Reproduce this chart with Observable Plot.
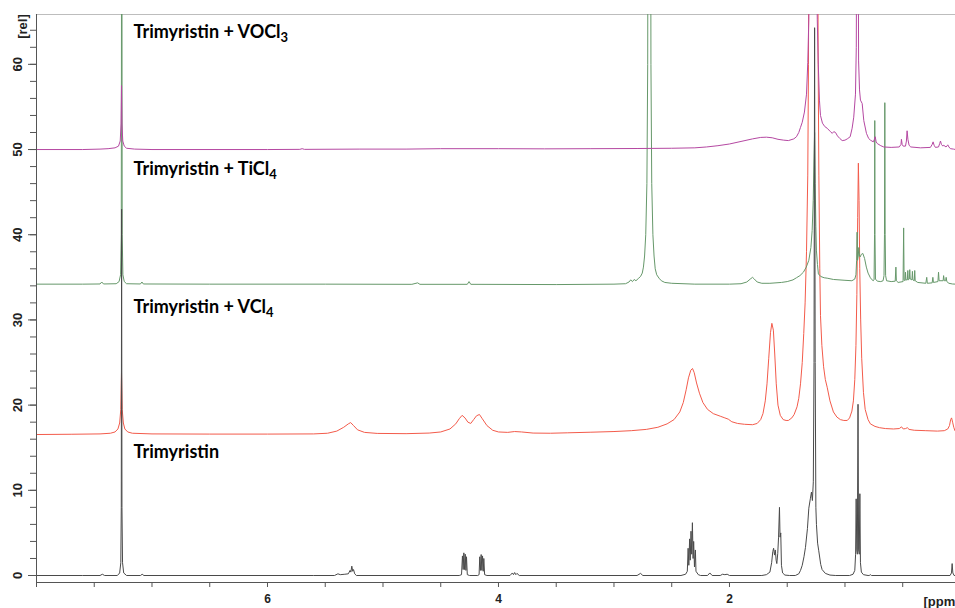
<!DOCTYPE html>
<html>
<head>
<meta charset="utf-8">
<script src="https://cdn.jsdelivr.net/npm/d3@7"></script>
<script src="https://cdn.jsdelivr.net/npm/@observablehq/plot@0.6"></script>
<style>
  html, body { margin: 0; padding: 0; background: #fff; }
  #chart { width: 955px; height: 608px; overflow: hidden; }
</style>
</head>
<body>
<div id="chart"></div>
<script>
// ---- Data: [ppm, intensity (rel)] ----
const trimyristin = [
  [8.0,0],[7.6,0],[7.45,0],[7.43,0.15],[7.41,0],[7.30,0],[7.28,0.3],[7.27,1.5],[7.266,8],[7.263,43],[7.26,8],[7.255,1.5],[7.245,0.3],[7.22,0],[7.10,0],[7.085,0.15],[7.07,0],
  [5.6,0],[5.42,0],[5.39,0.2],[5.37,0.1],[5.33,0.15],[5.30,0.2],[5.285,0.6],[5.278,0.4],[5.27,1.1],[5.262,0.5],[5.255,0.7],[5.245,0.2],[5.23,0],
  [4.34,0],[4.32,0.1],[4.312,2.3],[4.306,0.7],[4.30,2.66],[4.294,0.7],[4.288,2.5],[4.282,0.6],[4.277,2.2],[4.27,0.1],[4.25,0],
  [4.18,0],[4.168,0.1],[4.162,2.2],[4.156,0.6],[4.15,2.46],[4.144,0.6],[4.138,2.3],[4.132,0.5],[4.127,2.0],[4.12,0.1],[4.10,0],
  [3.90,0],[3.88,0.3],[3.87,0.1],[3.86,0.35],[3.85,0.1],[3.84,0.25],[3.82,0],
  [2.80,0],[2.77,0.25],[2.75,0],
  [2.42,0],[2.38,0.15],[2.365,0.5],[2.358,3.2],[2.352,1.2],[2.345,4.3],[2.34,1.8],[2.333,5.2],[2.327,2.5],[2.321,6.2],[2.315,2],[2.31,4.0],[2.303,1.0],[2.295,3.0],[2.29,0.5],[2.27,0.1],[2.25,0],
  [2.19,0],[2.17,0.3],[2.15,0],[2.08,0],[2.06,0.15],[2.04,0.1],[2.02,0.15],[2.0,0],
  [1.72,0],[1.68,0.1],[1.65,0.4],[1.635,1.5],[1.625,2.8],[1.618,3.2],[1.61,2.4],[1.603,3.0],[1.596,1.8],[1.59,1.4],[1.582,2.6],[1.575,4.5],[1.567,8.0],[1.562,4.5],[1.556,5.0],[1.55,1.2],[1.54,0.3],[1.52,0.05],[1.48,0],
  [1.43,0],[1.40,0.2],[1.385,0.6],[1.37,1.2],[1.355,2.2],[1.342,3.3],[1.325,5.5],[1.313,7.9],[1.30,9.0],[1.29,9.8],[1.282,8.8],[1.274,11],[1.268,25],[1.263,64.3],[1.258,25],[1.252,8],[1.247,6],[1.237,3.8],[1.227,2.9],[1.21,1.3],[1.198,0.7],[1.17,0.25],[1.13,0.05],[1.08,0],
  [0.96,0],[0.93,0.15],[0.915,0.6],[0.908,2.5],[0.903,9.0],[0.898,3.0],[0.893,2.5],[0.887,20.1],[0.882,3.0],[0.876,2.5],[0.871,9.6],[0.866,1.5],[0.858,0.4],[0.84,0.1],[0.80,0],
  [0.79,0],[0.78,0.1],[0.77,0],
  [0.09,0],[0.078,0.3],[0.072,1.4],[0.066,0.3],[0.055,0],[0.043,0]
];

const withVCl4 = [
  [8.0,16.55],[7.7,16.58],[7.45,16.62],[7.36,16.7],[7.32,16.85],[7.295,17.2],[7.28,17.9],[7.27,19.5],[7.264,23.8],[7.258,19.5],[7.248,17.9],[7.235,17.2],[7.21,16.85],[7.17,16.7],[7.0,16.62],[6.5,16.6],[6.0,16.6],[5.6,16.62],[5.48,16.7],[5.40,16.95],[5.34,17.4],[5.30,17.8],[5.28,17.95],[5.255,17.6],[5.22,17.1],[5.16,16.8],[5.05,16.68],[4.8,16.65],[4.6,16.72],[4.50,16.85],[4.42,17.2],[4.37,17.8],[4.34,18.4],[4.315,18.8],[4.29,18.5],[4.265,18.0],[4.24,17.85],[4.215,18.3],[4.19,18.75],[4.165,18.9],[4.14,18.4],[4.10,17.6],[4.05,17.05],[4.0,16.85],[3.92,16.8],[3.86,16.9],[3.80,16.85],[3.70,16.72],[3.55,16.7],[3.4,16.75],[3.2,16.82],[3.0,16.9],[2.85,17.0],[2.72,17.15],[2.62,17.4],[2.54,17.8],[2.48,18.3],[2.43,19.2],[2.40,20.3],[2.375,21.8],[2.355,23.2],[2.335,24.1],[2.32,24.3],[2.305,23.8],[2.285,22.6],[2.26,21.4],[2.23,20.3],[2.19,19.5],[2.14,19.0],[2.08,18.7],[2.04,18.5],[2.01,18.35],[1.98,18.05],[1.93,17.85],[1.87,17.75],[1.80,17.7],[1.76,17.85],[1.73,18.3],[1.71,19.0],[1.69,20.5],[1.675,22.5],[1.66,25.5],[1.645,28.5],[1.633,29.6],[1.62,28.8],[1.608,26],[1.595,22.5],[1.58,20],[1.56,18.8],[1.535,18.3],[1.51,18.2],[1.49,18.2],[1.46,18.5],[1.44,18.9],[1.415,19.8],[1.40,20.8],[1.385,22.5],[1.37,25],[1.357,28.4],[1.345,32],[1.333,38],[1.322,47],[1.316,60],[1.312,80],[1.26,110],[1.236,80],[1.232,60],[1.226,47],[1.218,36],[1.212,30.5],[1.20,27],[1.185,24.5],[1.17,23],[1.154,22.1],[1.13,20.5],[1.10,19.2],[1.07,18.6],[1.04,18.3],[1.01,18.2],[0.98,18.2],[0.96,18.5],[0.94,19.3],[0.927,20.5],[0.915,23],[0.905,27],[0.897,33],[0.89,42],[0.884,48.4],[0.878,44],[0.872,36],[0.864,30],[0.855,25.5],[0.84,21.5],[0.825,19.5],[0.80,18.3],[0.78,17.8],[0.74,17.5],[0.70,17.35],[0.65,17.25],[0.58,17.2],[0.53,17.25],[0.51,17.45],[0.495,17.2],[0.475,17.25],[0.46,17.35],[0.445,17.15],[0.40,17.05],[0.30,17.0],[0.20,16.95],[0.14,17.0],[0.11,17.2],[0.095,17.6],[0.085,18.3],[0.077,18.5],[0.068,18.0],[0.058,17.4],[0.048,17.0],[0.043,16.9]
];

const withTiCl4 = [
  [8.0,34.2],[7.6,34.2],[7.45,34.22],[7.435,34.45],[7.42,34.22],[7.31,34.25],[7.285,34.5],[7.272,35.3],[7.266,40],[7.262,100],[7.258,40],[7.252,35.3],[7.24,34.5],[7.22,34.25],[7.10,34.22],[7.087,34.45],[7.075,34.22],[6.5,34.2],[5.5,34.2],[4.75,34.18],[4.70,34.35],[4.68,34.18],[4.27,34.18],[4.255,34.5],[4.24,34.18],[3.5,34.15],[3.0,34.2],[2.90,34.25],[2.87,34.45],[2.855,34.7],[2.84,34.5],[2.825,34.75],[2.81,34.6],[2.79,34.85],[2.77,35.1],[2.755,35.5],[2.745,36.2],[2.735,37.5],[2.725,40],[2.715,46],[2.708,60],[2.704,100],[2.684,100],[2.68,60],[2.673,46],[2.663,40],[2.653,37.5],[2.643,36],[2.63,35.3],[2.61,34.9],[2.59,34.6],[2.56,34.4],[2.5,34.3],[2.3,34.2],[2.0,34.2],[1.90,34.25],[1.85,34.45],[1.815,34.85],[1.80,35.0],[1.785,34.8],[1.76,34.45],[1.72,34.3],[1.65,34.3],[1.55,34.4],[1.50,34.5],[1.45,34.7],[1.42,34.95],[1.39,35.2],[1.36,35.6],[1.335,36.2],[1.313,37.0],[1.295,38.5],[1.284,40.5],[1.275,44],[1.268,49],[1.263,52],[1.258,46],[1.252,41],[1.247,38.1],[1.238,36.5],[1.23,35.4],[1.21,35.1],[1.18,34.95],[1.154,34.9],[1.10,34.75],[1.0,34.65],[0.94,34.6],[0.915,34.8],[0.905,35.3],[0.899,37],[0.895,40.3],[0.891,37],[0.885,37.5],[0.88,38.5],[0.874,37.5],[0.868,37.4],[0.858,37.7],[0.845,37.8],[0.83,37.2],[0.815,36.2],[0.80,35.5],[0.78,34.95],[0.765,34.7],[0.756,34.6],[0.748,34.7],[0.744,40],[0.742,53.4],[0.74,40],[0.736,34.8],[0.72,34.55],[0.69,34.5],[0.67,34.6],[0.662,35.2],[0.658,40],[0.655,55.5],[0.652,40],[0.648,35.2],[0.64,34.6],[0.60,34.5],[0.565,34.55],[0.559,36.2],[0.555,34.6],[0.54,34.4],[0.497,34.5],[0.492,40.8],[0.488,34.7],[0.48,34.6],[0.476,35.6],[0.472,34.7],[0.46,34.7],[0.456,35.8],[0.452,34.7],[0.443,34.8],[0.439,35.9],[0.435,34.8],[0.42,34.7],[0.416,35.7],[0.412,34.7],[0.40,34.6],[0.396,35.8],[0.392,34.6],[0.37,34.4],[0.30,34.3],[0.292,35.0],[0.287,34.3],[0.245,34.35],[0.239,35.0],[0.234,34.4],[0.195,34.5],[0.19,35.6],[0.185,34.6],[0.15,34.6],[0.146,35.2],[0.14,34.6],[0.128,34.6],[0.124,35.0],[0.118,34.5],[0.10,34.3],[0.07,34.22],[0.043,34.2]
];

const withVOCl3 = [
  [8.0,50.0],[7.6,50.0],[7.45,50.05],[7.38,50.1],[7.32,50.2],[7.29,50.4],[7.275,51],[7.268,53],[7.264,57.5],[7.26,53],[7.253,51],[7.24,50.4],[7.22,50.15],[7.15,50.05],[7.0,50.0],[6.0,50.0],[5.72,50.02],[5.70,50.1],[5.68,50.02],[5.2,50.05],[4.8,50.05],[4.5,50.1],[4.0,50.1],[3.6,50.08],[3.2,50.1],[2.8,50.12],[2.5,50.15],[2.3,50.2],[2.2,50.3],[2.1,50.45],[2.0,50.65],[1.9,50.95],[1.8,51.25],[1.73,51.42],[1.68,51.45],[1.63,51.38],[1.58,51.2],[1.53,51.1],[1.49,51.05],[1.443,51.25],[1.42,51.5],[1.40,52.0],[1.385,52.6],[1.37,53.2],[1.351,54.4],[1.333,56.5],[1.322,60.2],[1.313,65.3],[1.305,90],[1.25,90],[1.24,65.3],[1.232,60.4],[1.221,55.8],[1.212,54.0],[1.195,53.1],[1.175,52.7],[1.154,52.5],[1.126,52.1],[1.11,51.9],[1.097,52.1],[1.082,52.0],[1.065,51.6],[1.045,51.3],[1.024,51.05],[1.0,51.1],[0.98,51.25],[0.955,51.5],[0.938,52.5],[0.924,53.8],[0.909,56.5],[0.902,62],[0.898,80],[0.886,80],[0.882,60.4],[0.874,57],[0.866,55.8],[0.851,55.4],[0.837,53.4],[0.814,51.9],[0.795,51.3],[0.779,51.1],[0.755,50.9],[0.745,51.2],[0.738,51.5],[0.73,50.9],[0.72,50.7],[0.69,50.45],[0.664,50.3],[0.60,50.25],[0.53,50.3],[0.515,50.6],[0.511,51.2],[0.505,50.6],[0.496,50.4],[0.476,50.4],[0.468,51.0],[0.462,52.2],[0.455,51.2],[0.445,50.5],[0.43,50.3],[0.346,50.2],[0.26,50.25],[0.245,50.6],[0.237,50.9],[0.228,50.5],[0.217,50.25],[0.19,50.3],[0.18,50.7],[0.173,51.0],[0.165,50.6],[0.152,50.4],[0.145,50.5],[0.125,50.3],[0.115,50.45],[0.11,50.55],[0.1,50.3],[0.087,50.1],[0.06,50.05],[0.043,50.0]
];

const seriesNames = ["Trimyristin", "Trimyristin + VCl4", "Trimyristin + TiCl4", "Trimyristin + VOCl3"];
const labelPpm = [7.16, 7.16, 7.16, 7.16];
const labelRel = [14.5, 31.5, 47.7, 63.8];

const xTicks = d3.range(0.5, 8.01, 0.5);
const xLabelTicks = [6, 4, 2];
const yTicksMinor = d3.range(0, 65, 2);
const yTicksMajor = [0, 10, 20, 30, 40, 50, 60];

// ---- Build ----
const colors = {
  "Trimyristin": "#4a4a4a",
  "Trimyristin + VCl4": "#f35b4b",
  "Trimyristin + TiCl4": "#66986a",
  "Trimyristin + VOCl3": "#b548a2"
};
const toRows = (arr) => arr.map(([ppm, rel]) => ({ppm, rel}));
const labels = seriesNames.map((t, i) => ({text: t, ppm: labelPpm[i], rel: labelRel[i]}));

const lineOpts = (name) => ({x: "ppm", y: "rel", stroke: colors[name], strokeWidth: 1, clip: true, curve: "linear"});

const tickFont = {fontFamily: "Liberation Sans, Arial, sans-serif", fontWeight: "bold", fontSize: 13, fill: "#222"};

const plot = Plot.plot({
  width: 955,
  height: 608,
  marginTop: 14,
  marginBottom: 26,
  marginLeft: 36,
  marginRight: 0,
  x: {domain: [8.0, 0.043], axis: null},
  y: {domain: [-0.82, 65.85], axis: null},
  style: {background: "#fff", overflow: "visible"},
  marks: [
    Plot.frame({anchor: "top", stroke: "#bdbdbd", strokeWidth: 1.2}),
    Plot.line(toRows(withVCl4), lineOpts("Trimyristin + VCl4")),
    Plot.line(toRows(withTiCl4), lineOpts("Trimyristin + TiCl4")),
    Plot.line(toRows(trimyristin), lineOpts("Trimyristin")),
    Plot.line(toRows(withVOCl3), lineOpts("Trimyristin + VOCl3")),
    Plot.frame({anchor: "left", stroke: "#555"}),
    Plot.frame({anchor: "bottom", stroke: "#555"}),
    Plot.axisX({ticks: xTicks, tickSize: 5, stroke: "#555", tickFormat: d => xLabelTicks.includes(d) ? String(d) : "", tickPadding: 7, ...tickFont, fontSize: 12, label: null}),
    Plot.axisY({ticks: yTicksMinor, tickSize: 6, stroke: "#555", tickFormat: () => "", label: null}),
    Plot.axisY({ticks: yTicksMajor, tickSize: 8, stroke: "#555", tickFormat: () => "", label: null}),
    Plot.text(yTicksMajor, {y: d => d, text: d => String(d), frameAnchor: "left", dx: -19, rotate: -90, textAnchor: "middle", ...tickFont}),
    Plot.text(["[rel]"], {frameAnchor: "top-left", dx: -19, dy: 12, rotate: -90, textAnchor: "middle", ...tickFont}),
    Plot.text(["[ppm"], {frameAnchor: "bottom-right", dx: -32, dy: 19, textAnchor: "start", lineAnchor: "middle", ...tickFont, fontSize: 13}),
    Plot.text(labels, {x: "ppm", y: "rel", text: "text", textAnchor: "start", lineAnchor: "middle", fontFamily: "Lato, Carlito, sans-serif", fontWeight: "bold", fontSize: 18, fill: "#000"})
  ]
});

// Subscript chemical-formula digits
d3.select(plot).selectAll("text").each(function() {
  const t = this.textContent;
  const m = t.match(/^(.*Cl)(\d)$/);
  if (m) {
    this.textContent = m[1];
    d3.select(this).append("tspan").attr("dy", "0.3em").attr("font-size", "0.72em").text(m[2]);
  }
});

document.getElementById("chart").appendChild(plot);
</script>
</body>
</html>
